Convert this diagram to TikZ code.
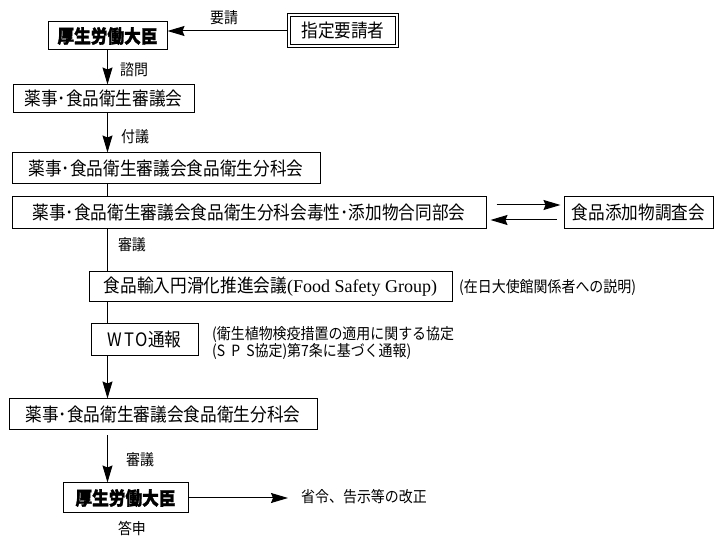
\documentclass[tikz,border=0pt]{standalone}
\usepackage{fontspec}
\setmainfont{Noto Sans CJK JP}[FakeStretch=0.9,BoldFeatures={FakeBold=1.5}]
\newfontfamily\serifen{Liberation Serif}
\usetikzlibrary{arrows.meta}
\begin{document}
\begin{tikzpicture}[x=1pt,y=-1pt,
  box/.style={draw,line width=1pt,inner sep=0pt,font=\fontsize{18.5}{20}\selectfont},
  boldbox/.style={box,font=\fontsize{18.5}{20}\selectfont\bfseries},
  lbl/.style={inner sep=0pt,font=\fontsize{15.5}{17}\selectfont},
  arr/.style={line width=1pt,-{Stealth[length=17pt,width=10pt,inset=2pt]}},
  ln/.style={line width=1pt}]
\useasboundingbox (0,0) rectangle (716,537);
% top row
\node[boldbox,minimum width=119pt,minimum height=28pt] (b1) at (107.5,36) {厚生労働大臣};
\node[box,double,double distance=2pt,minimum width=108pt,minimum height=31pt] (req) at (343,31) {指定要請者};
\draw[arr] ([xshift=-2pt]req.west) -- (req.west -| b1.east);
\node[lbl] (l1) at (224,18) {要請};
% council
\node[box,minimum width=181pt,minimum height=28pt] (b2) at (103.5,99) {薬事･食品衛生審議会};
\draw[arr] (b1.south) -- (b1.south |- b2.north);
\node[lbl] (l2) at (134,70) {諮問};
% subcommittee
\node[box,minimum width=308pt,minimum height=31pt] (b3) at (166,168.5) {薬事･食品衛生審議会食品衛生分科会};
\draw[arr] (b1.south |- b2.south) -- (b1.south |- b3.north);
\node[lbl] (l3) at (135,137) {付議};
% joint section
\node[box,minimum width=474pt,minimum height=32pt] (b4) at (249,213) {薬事･食品衛生審議会食品衛生分科会毒性･添加物合同部会};
\draw[ln] (b1.south |- b3.south) -- (b1.south |- b4.north);
\node[box,minimum width=149pt,minimum height=32pt] (b5) at (638.5,213) {食品添加物調査会};
\draw[arr,shorten <=10pt,shorten >=3pt] ([yshift=8pt]b4.east) -- ([yshift=8pt]b5.west);
\draw[arr,shorten <=7pt,shorten >=4pt] ([yshift=-7pt]b5.west) -- ([yshift=-7pt]b4.east);
\node[lbl] (l4) at (132,245) {審議};
% food import
\node[box,minimum width=363pt,minimum height=30pt] (b6) at (270.5,287) {食品輸入円滑化推進会議{\serifen\fontsize{18}{20}\selectfont(Food Safety Group)}};
\draw[ln] (b1.south |- b4.south) -- (b1.south |- b6.north);
\node[lbl,anchor=west] (n6) at (459,287) {(在日大使館関係者への説明)};
% WTO
\node[box,minimum width=107pt,minimum height=32pt] (b7) at (144.5,340) {{\addfontfeature{LetterSpace=12}WTO}通報};
\draw[ln] (b1.south |- b6.south) -- (b1.south |- b7.north);
\node[lbl,anchor=west,align=left,font=\fontsize{15.5}{17.5}\selectfont] (n7) at (212,343) {(衛生植物検疫措置の適用に関する協定\\({\addfontfeature{LetterSpace=40}SPS}協定)第7条に基づく通報)};
% subcommittee again
\node[box,minimum width=308pt,minimum height=31pt] (b8) at (163,414.5) {薬事･食品衛生審議会食品衛生分科会};
\draw[arr] (b1.south |- b7.south) -- (b1.south |- b8.north);
% minister
\node[boldbox,minimum width=125pt,minimum height=30pt] (b9) at (125.5,498) {厚生労働大臣};
\draw[arr,shorten <=5pt] (b1.south |- b8.south) -- (b1.south |- b9.north);
\node[lbl] (l8) at (140,460) {審議};
\coordinate (end) at (288,498);
\draw[arr] (b9.east) -- (end);
\node[lbl,anchor=west] (n9) at (301,497) {省令、告示等の改正};
\node[lbl] (l9) at (132,528) {答申};
\end{tikzpicture}
\end{document}
